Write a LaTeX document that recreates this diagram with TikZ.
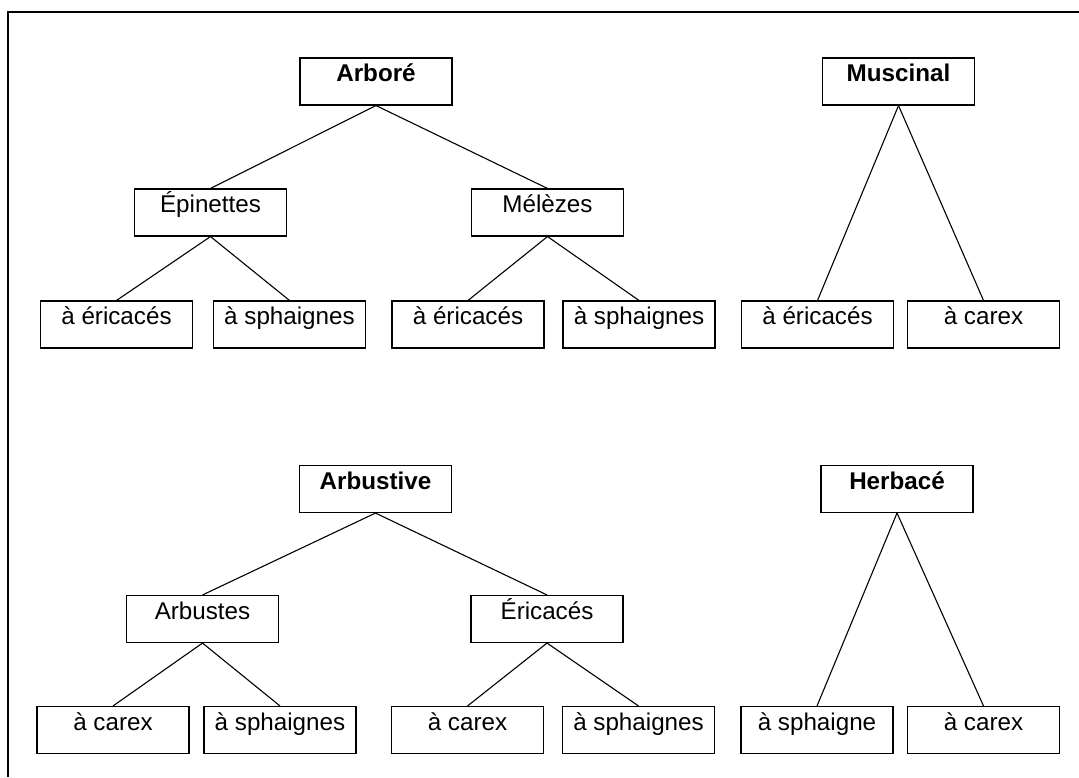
\documentclass[tikz,border=0pt]{standalone}
\usepackage{fontspec}
\setmainfont{Liberation Sans}
\begin{document}
\begin{tikzpicture}[x=0.5pt,y=-0.5pt,
  box/.style={draw=black, line width=0.75pt, rectangle, inner sep=0pt,
    minimum width=76pt, minimum height=23.3pt, text height=7pt, text depth=7pt,
    font=\fontsize{12.1pt}{14pt}\selectfont},
  hbox/.style={box, font=\fontsize{12.1pt}{14pt}\selectfont\bfseries},
  link/.style={line width=0.55pt}]
\useasboundingbox (0,0) rectangle (1079,777);
\coordinate (ftop) at (1079,12);
\coordinate (fcorner) at (8,12);
\coordinate (fbot) at (8,777);
\draw[line width=1.2pt] (ftop) -- (fcorner) -- (fbot);
% top left tree
\node[hbox] (arbore) at (376,81.5) {Arboré};
\node[box] (epin) at (210.5,212.5) {Épinettes};
\node[box] (mele) at (547.5,212.5) {Mélèzes};
\node[box] (e1) at (116.5,324.5) {à éricacés};
\node[box] (s1) at (289.5,324.5) {à sphaignes};
\node[box] (e2) at (468,324.5) {à éricacés};
\node[box] (s2) at (639,324.5) {à sphaignes};
% top right tree
\node[hbox] (musc) at (898.5,81.5) {Muscinal};
\node[box] (e3) at (817.5,324.5) {à éricacés};
\node[box] (c3) at (983.5,324.5) {à carex};
% bottom left tree
\node[hbox] (arbustive) at (375.5,489) {Arbustive};
\node[box] (arbustes) at (202.5,619) {Arbustes};
\node[box] (eric) at (547,619) {Éricacés};
\node[box] (c4) at (113,730) {à carex};
\node[box] (s4) at (280,730) {à sphaignes};
\node[box] (c5) at (467.5,730) {à carex};
\node[box] (s5) at (638.5,730) {à sphaignes};
% bottom right tree
\node[hbox] (herb) at (897,489) {Herbacé};
\node[box] (s6) at (817,730) {à sphaigne};
\node[box] (c6) at (983.5,730) {à carex};
% links
\draw[link] (arbore.south) -- (epin.north);
\draw[link] (arbore.south) -- (mele.north);
\draw[link] (epin.south) -- (e1.north);
\draw[link] (epin.south) -- (s1.north);
\draw[link] (mele.south) -- (e2.north);
\draw[link] (mele.south) -- (s2.north);
\draw[link] (musc.south) -- (e3.north);
\draw[link] (musc.south) -- (c3.north);
\draw[link] (arbustive.south) -- (arbustes.north);
\draw[link] (arbustive.south) -- (eric.north);
\draw[link] (arbustes.south) -- (c4.north);
\draw[link] (arbustes.south) -- (s4.north);
\draw[link] (eric.south) -- (c5.north);
\draw[link] (eric.south) -- (s5.north);
\draw[link] (herb.south) -- (s6.north);
\draw[link] (herb.south) -- (c6.north);
\end{tikzpicture}
\end{document}
